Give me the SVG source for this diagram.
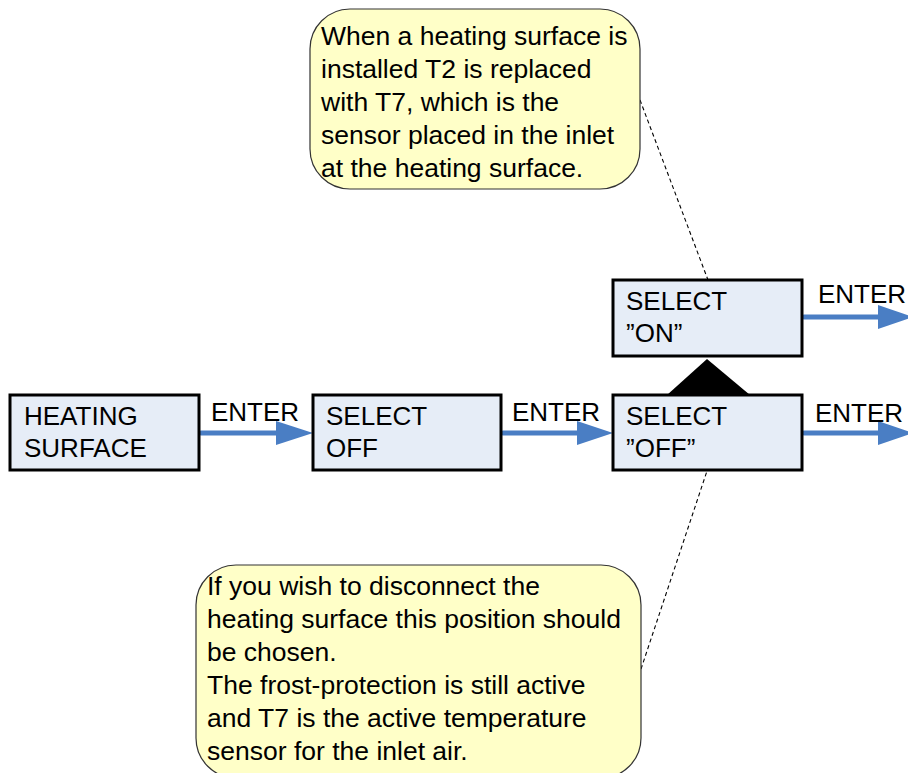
<svg xmlns="http://www.w3.org/2000/svg" width="908" height="773" viewBox="0 0 908 773">
<defs>
<style>
.box{fill:#E6EDF7;stroke:#000;stroke-width:3}
.call{fill:#FFFFC8;stroke:#333;stroke-width:1.2}
.t{font-family:"Liberation Sans",Arial,sans-serif;font-size:26px;fill:#000}
.c{font-size:26.5px}
.ar{stroke:#4A7EC4;stroke-width:5;stroke-linecap:round;fill:none}
.ah{fill:#4A7EC4}
.dash{stroke:#000;stroke-width:1.1;stroke-dasharray:4,3;fill:none}
</style>
</defs>
<rect width="908" height="773" fill="#fff"/>
<g id="connectors">
<line class="dash" x1="640" y1="100" x2="708" y2="280"/>
<line class="dash" x1="641" y1="669" x2="707" y2="471"/>
<line class="ar" x1="201" y1="433" x2="278" y2="433"/>
<polygon class="ah" points="276,421 313,433 276,445"/>
<text class="t" x="211" y="421">ENTER</text>
<line class="ar" x1="503" y1="433" x2="578" y2="433"/>
<polygon class="ah" points="577,421 613,433 577,445"/>
<text class="t" x="512" y="421">ENTER</text>
<line class="ar" x1="804" y1="433" x2="880" y2="433"/>
<polygon class="ah" points="878,421 913,433 878,445"/>
<text class="t" x="815" y="422">ENTER</text>
<line class="ar" x1="804" y1="317" x2="880" y2="317"/>
<polygon class="ah" points="878,305 913,317 878,329"/>
<text class="t" x="818" y="303">ENTER</text>
<polygon points="667,395 750,395 707,359" fill="#000"/>
</g>
<g id="callout-top">
<rect class="call" x="310" y="9" width="330" height="180" rx="40" ry="40"/>
<text class="t c" x="321" y="45">When a heating surface is</text>
<text class="t c" x="321" y="78">installed T2 is replaced</text>
<text class="t c" x="321" y="111">with T7, which is the</text>
<text class="t c" x="321" y="144">sensor placed in the inlet</text>
<text class="t c" x="321" y="177">at the heating surface.</text>
</g>
<g id="box-heating">
<rect class="box" x="10" y="395" width="189" height="75"/>
<text class="t" x="24" y="425">HEATING</text>
<text class="t" x="24" y="457">SURFACE</text>
</g>
<g id="box-select-off">
<rect class="box" x="313" y="395" width="188" height="75"/>
<text class="t" x="326" y="425">SELECT</text>
<text class="t" x="326" y="457">OFF</text>
</g>
<g id="box-select-off2">
<rect class="box" x="613" y="395" width="189" height="75"/>
<text class="t" x="626" y="425">SELECT</text>
<text class="t" x="626" y="457">”OFF”</text>
</g>
<g id="box-select-on">
<rect class="box" x="613" y="280" width="189" height="76"/>
<text class="t" x="626" y="310">SELECT</text>
<text class="t" x="626" y="342">”ON”</text>
</g>
<g id="callout-bottom">
<rect class="call" x="196" y="565" width="445" height="213" rx="40" ry="40"/>
<text class="t c" x="207" y="595">If you wish to disconnect the</text>
<text class="t c" x="207" y="628">heating surface this position should</text>
<text class="t c" x="207" y="661">be chosen.</text>
<text class="t c" x="207" y="694">The frost-protection is still active</text>
<text class="t c" x="207" y="727">and T7 is the active temperature</text>
<text class="t c" x="207" y="760">sensor for the inlet air.</text>
</g>
</svg>
